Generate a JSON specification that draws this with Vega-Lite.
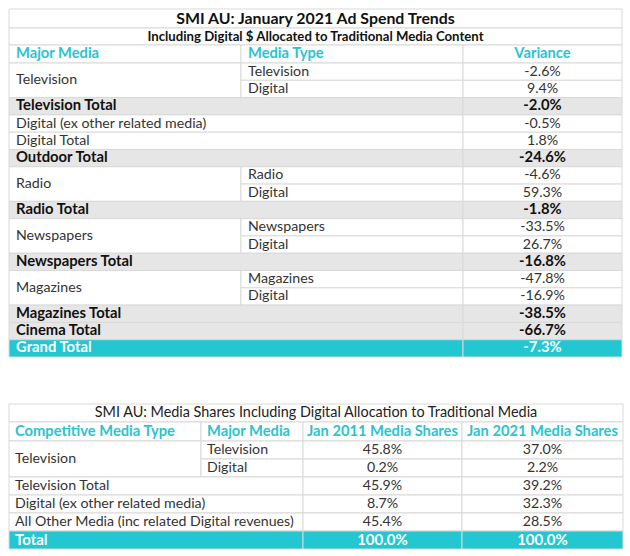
{
  "$schema": "https://vega.github.io/schema/vega-lite/v6.json",
  "padding": {"left": 8, "top": 8, "right": 8, "bottom": 8},
  "spacing": 45,
  "config": {"view": {"stroke": null}, "text": {"font": "Lato", "baseline": "middle"}},
  "datasets": {
    "t1": [
      {"r":0,"re":1,"c":0,"ce":3,"t":"SMI AU: January 2021 Ad Spend Trends","k":"title","a":"c"},
      {"r":1,"re":2,"c":0,"ce":3,"t":"Including Digital $ Allocated to Traditional Media Content","k":"subtitle","a":"c"},
      {"r":2,"re":3,"c":0,"ce":1,"t":"Major Media","k":"header","a":"l"},
      {"r":2,"re":3,"c":1,"ce":2,"t":"Media Type","k":"header","a":"l"},
      {"r":2,"re":3,"c":2,"ce":3,"t":"Variance","k":"header","a":"c"},
      {"r":3,"re":5,"c":0,"ce":1,"t":"Television","k":"body","a":"l"},
      {"r":3,"re":4,"c":1,"ce":2,"t":"Television","k":"body","a":"l"},
      {"r":3,"re":4,"c":2,"ce":3,"t":"-2.6%","k":"body","a":"c"},
      {"r":4,"re":5,"c":1,"ce":2,"t":"Digital","k":"body","a":"l"},
      {"r":4,"re":5,"c":2,"ce":3,"t":"9.4%","k":"body","a":"c"},
      {"r":5,"re":6,"c":0,"ce":2,"t":"Television Total","k":"total","a":"l"},
      {"r":5,"re":6,"c":2,"ce":3,"t":"-2.0%","k":"total","a":"c"},
      {"r":6,"re":7,"c":0,"ce":2,"t":"Digital (ex other related media)","k":"body","a":"l"},
      {"r":6,"re":7,"c":2,"ce":3,"t":"-0.5%","k":"body","a":"c"},
      {"r":7,"re":8,"c":0,"ce":2,"t":"Digital Total","k":"body","a":"l"},
      {"r":7,"re":8,"c":2,"ce":3,"t":"1.8%","k":"body","a":"c"},
      {"r":8,"re":9,"c":0,"ce":2,"t":"Outdoor Total","k":"total","a":"l"},
      {"r":8,"re":9,"c":2,"ce":3,"t":"-24.6%","k":"total","a":"c"},
      {"r":9,"re":11,"c":0,"ce":1,"t":"Radio","k":"body","a":"l"},
      {"r":9,"re":10,"c":1,"ce":2,"t":"Radio","k":"body","a":"l"},
      {"r":9,"re":10,"c":2,"ce":3,"t":"-4.6%","k":"body","a":"c"},
      {"r":10,"re":11,"c":1,"ce":2,"t":"Digital","k":"body","a":"l"},
      {"r":10,"re":11,"c":2,"ce":3,"t":"59.3%","k":"body","a":"c"},
      {"r":11,"re":12,"c":0,"ce":2,"t":"Radio Total","k":"total","a":"l"},
      {"r":11,"re":12,"c":2,"ce":3,"t":"-1.8%","k":"total","a":"c"},
      {"r":12,"re":14,"c":0,"ce":1,"t":"Newspapers","k":"body","a":"l"},
      {"r":12,"re":13,"c":1,"ce":2,"t":"Newspapers","k":"body","a":"l"},
      {"r":12,"re":13,"c":2,"ce":3,"t":"-33.5%","k":"body","a":"c"},
      {"r":13,"re":14,"c":1,"ce":2,"t":"Digital","k":"body","a":"l"},
      {"r":13,"re":14,"c":2,"ce":3,"t":"26.7%","k":"body","a":"c"},
      {"r":14,"re":15,"c":0,"ce":2,"t":"Newspapers Total","k":"total","a":"l"},
      {"r":14,"re":15,"c":2,"ce":3,"t":"-16.8%","k":"total","a":"c"},
      {"r":15,"re":17,"c":0,"ce":1,"t":"Magazines","k":"body","a":"l"},
      {"r":15,"re":16,"c":1,"ce":2,"t":"Magazines","k":"body","a":"l"},
      {"r":15,"re":16,"c":2,"ce":3,"t":"-47.8%","k":"body","a":"c"},
      {"r":16,"re":17,"c":1,"ce":2,"t":"Digital","k":"body","a":"l"},
      {"r":16,"re":17,"c":2,"ce":3,"t":"-16.9%","k":"body","a":"c"},
      {"r":17,"re":18,"c":0,"ce":2,"t":"Magazines Total","k":"total","a":"l"},
      {"r":17,"re":18,"c":2,"ce":3,"t":"-38.5%","k":"total","a":"c"},
      {"r":18,"re":19,"c":0,"ce":2,"t":"Cinema Total","k":"total","a":"l"},
      {"r":18,"re":19,"c":2,"ce":3,"t":"-66.7%","k":"total","a":"c"},
      {"r":19,"re":20,"c":0,"ce":2,"t":"Grand Total","k":"grand","a":"l"},
      {"r":19,"re":20,"c":2,"ce":3,"t":"-7.3%","k":"grand","a":"c"}
    ],
    "t2": [
      {"r":0,"re":1,"c":0,"ce":4,"t":"SMI AU: Media Shares Including Digital Allocation to Traditional Media","k":"title2","a":"c"},
      {"r":1,"re":2,"c":0,"ce":1,"t":"Competitive Media Type","k":"header","a":"l"},
      {"r":1,"re":2,"c":1,"ce":2,"t":"Major Media","k":"header","a":"l"},
      {"r":1,"re":2,"c":2,"ce":3,"t":"Jan 2011 Media Shares","k":"header","a":"c"},
      {"r":1,"re":2,"c":3,"ce":4,"t":"Jan 2021 Media Shares","k":"header","a":"c"},
      {"r":2,"re":4,"c":0,"ce":1,"t":"Television","k":"body","a":"l"},
      {"r":2,"re":3,"c":1,"ce":2,"t":"Television","k":"body","a":"l"},
      {"r":2,"re":3,"c":2,"ce":3,"t":"45.8%","k":"body","a":"c"},
      {"r":2,"re":3,"c":3,"ce":4,"t":"37.0%","k":"body","a":"c"},
      {"r":3,"re":4,"c":1,"ce":2,"t":"Digital","k":"body","a":"l"},
      {"r":3,"re":4,"c":2,"ce":3,"t":"0.2%","k":"body","a":"c"},
      {"r":3,"re":4,"c":3,"ce":4,"t":"2.2%","k":"body","a":"c"},
      {"r":4,"re":5,"c":0,"ce":2,"t":"Television Total","k":"body","a":"l"},
      {"r":4,"re":5,"c":2,"ce":3,"t":"45.9%","k":"body","a":"c"},
      {"r":4,"re":5,"c":3,"ce":4,"t":"39.2%","k":"body","a":"c"},
      {"r":5,"re":6,"c":0,"ce":2,"t":"Digital (ex other related media)","k":"body","a":"l"},
      {"r":5,"re":6,"c":2,"ce":3,"t":"8.7%","k":"body","a":"c"},
      {"r":5,"re":6,"c":3,"ce":4,"t":"32.3%","k":"body","a":"c"},
      {"r":6,"re":7,"c":0,"ce":2,"t":"All Other Media (inc related Digital revenues)","k":"body","a":"l"},
      {"r":6,"re":7,"c":2,"ce":3,"t":"45.4%","k":"body","a":"c"},
      {"r":6,"re":7,"c":3,"ce":4,"t":"28.5%","k":"body","a":"c"},
      {"r":7,"re":8,"c":0,"ce":2,"t":"Total","k":"grand","a":"l"},
      {"r":7,"re":8,"c":2,"ce":3,"t":"100.0%","k":"grand","a":"c"},
      {"r":7,"re":8,"c":3,"ce":4,"t":"100.0%","k":"grand","a":"c"}
    ]
  },
  "vconcat": [
    {
      "width": 613, "height": 348,
      "data": {"name": "t1"},
      "transform": [
        {"calculate": "(datum.r + datum.re) / 2", "as": "ym"},
        {"calculate": "(datum.c + datum.ce) / 2", "as": "xm"}
      ],
      "resolve": {"scale": {"x": "independent"}},
      "layer": [
        {
          "encoding": {
            "y": {"field": "ym", "type": "quantitative", "axis": null, "scale": {"domain": [0,1,2,3,20], "range": [0,19,36,54,348], "zero": false, "nice": false}},
            "text": {"field": "t"},
            "color": {"field": "k", "type": "nominal", "legend": null, "scale": {"domain": ["title","subtitle","title2","header","body","total","grand"], "range": ["#111111","#111111","#222222","#2cc3cf","#333333","#111111","#ffffff"]}}
          },
          "layer": [
            {
              "mark": {"type": "rect", "stroke": "#d9d9d9", "strokeWidth": 1},
              "encoding": {
                "x": {"field": "c", "type": "quantitative", "axis": null, "scale": {"domain": [0,1,2,3], "range": [0,232,454,613], "zero": false, "nice": false}},
                "x2": {"field": "ce"},
                "y": {"field": "r", "type": "quantitative", "axis": null, "scale": {"domain": [0,1,2,3,20], "range": [0,19,36,54,348], "zero": false, "nice": false}},
                "y2": {"field": "re"},
                "color": null,
                "text": null,
                "fill": {"field": "k", "type": "nominal", "legend": null, "scale": {"domain": ["title","subtitle","title2","header","body","total","grand"], "range": ["#ffffff","#ffffff","#ffffff","#ffffff","#ffffff","#e6e6e6","#22c7d1"]}}
              }
            },
            {
              "transform": [{"filter": "datum.a === 'l' && datum.k === 'body'"}],
              "mark": {"type": "text", "align": "left", "dx": 7, "fontSize": 14.2, "fontWeight": "normal"},
              "encoding": {"x": {"field": "c", "type": "quantitative"}}
            },
            {
              "transform": [{"filter": "datum.a === 'c' && datum.k === 'body'"}],
              "mark": {"type": "text", "align": "center", "fontSize": 14.2, "fontWeight": "normal"},
              "encoding": {"x": {"field": "xm", "type": "quantitative"}}
            },
            {
              "transform": [{"filter": "datum.a === 'l' && datum.k === 'header'"}],
              "mark": {"type": "text", "align": "left", "dx": 7, "fontSize": 14.7, "fontWeight": "bold"},
              "encoding": {"x": {"field": "c", "type": "quantitative"}}
            },
            {
              "transform": [{"filter": "datum.a === 'c' && datum.k === 'header'"}],
              "mark": {"type": "text", "align": "center", "fontSize": 14.7, "fontWeight": "bold"},
              "encoding": {"x": {"field": "xm", "type": "quantitative"}}
            },
            {
              "transform": [{"filter": "datum.a === 'l' && (datum.k === 'total' || datum.k === 'grand')"}],
              "mark": {"type": "text", "align": "left", "dx": 7, "fontSize": 14.8, "fontWeight": "bold"},
              "encoding": {"x": {"field": "c", "type": "quantitative"}}
            },
            {
              "transform": [{"filter": "datum.a === 'c' && (datum.k === 'total' || datum.k === 'grand')"}],
              "mark": {"type": "text", "align": "center", "fontSize": 14.8, "fontWeight": "bold"},
              "encoding": {"x": {"field": "xm", "type": "quantitative"}}
            }
          ]
        },
        {
          "encoding": {
            "x": {"field": "xm", "type": "quantitative", "axis": null, "scale": {"domain": [0,3], "range": [0,613], "zero": false, "nice": false}},
            "y": {"field": "ym", "type": "quantitative"},
            "text": {"field": "t"},
            "color": {"field": "k", "type": "nominal", "legend": null, "scale": {"domain": ["title","subtitle","title2","header","body","total","grand"], "range": ["#111111","#111111","#222222","#2cc3cf","#333333","#111111","#ffffff"]}}
          },
          "layer": [
            {
              "transform": [{"filter": "datum.k === 'title'"}],
              "mark": {"type": "text", "align": "center", "fontSize": 15.9, "fontWeight": "bold"}
            },
            {
              "transform": [{"filter": "datum.k === 'subtitle'"}],
              "mark": {"type": "text", "align": "center", "fontSize": 13.2, "fontWeight": "bold"}
            }
          ]
        }
      ]
    },
    {
      "width": 614, "height": 145,
      "data": {"name": "t2"},
      "transform": [
        {"calculate": "(datum.r + datum.re) / 2", "as": "ym"},
        {"calculate": "(datum.c + datum.ce) / 2", "as": "xm"}
      ],
      "resolve": {"scale": {"x": "independent"}},
      "layer": [
        {
          "encoding": {
            "y": {"field": "ym", "type": "quantitative", "axis": null, "scale": {"domain": [0,1,2,8], "range": [0,18,37,145], "zero": false, "nice": false}},
            "text": {"field": "t"},
            "color": {"field": "k", "type": "nominal", "legend": null, "scale": {"domain": ["title","subtitle","title2","header","body","total","grand"], "range": ["#111111","#111111","#222222","#2cc3cf","#333333","#111111","#ffffff"]}}
          },
          "layer": [
            {
              "mark": {"type": "rect", "stroke": "#d9d9d9", "strokeWidth": 1},
              "encoding": {
                "x": {"field": "c", "type": "quantitative", "axis": null, "scale": {"domain": [0,1,2,3,4], "range": [0,192,294,453,614], "zero": false, "nice": false}},
                "x2": {"field": "ce"},
                "y": {"field": "r", "type": "quantitative", "axis": null, "scale": {"domain": [0,1,2,8], "range": [0,18,37,145], "zero": false, "nice": false}},
                "y2": {"field": "re"},
                "color": null,
                "text": null,
                "fill": {"field": "k", "type": "nominal", "legend": null, "scale": {"domain": ["title","subtitle","title2","header","body","total","grand"], "range": ["#ffffff","#ffffff","#ffffff","#ffffff","#ffffff","#e6e6e6","#22c7d1"]}}
              }
            },
            {
              "transform": [{"filter": "datum.a === 'l' && datum.k === 'body'"}],
              "mark": {"type": "text", "align": "left", "dx": 6, "fontSize": 14.2, "fontWeight": "normal"},
              "encoding": {"x": {"field": "c", "type": "quantitative"}}
            },
            {
              "transform": [{"filter": "datum.a === 'c' && datum.k === 'body'"}],
              "mark": {"type": "text", "align": "center", "fontSize": 14.2, "fontWeight": "normal"},
              "encoding": {"x": {"field": "xm", "type": "quantitative"}}
            },
            {
              "transform": [{"filter": "datum.a === 'l' && datum.k === 'header'"}],
              "mark": {"type": "text", "align": "left", "dx": 6, "fontSize": 14.7, "fontWeight": "bold"},
              "encoding": {"x": {"field": "c", "type": "quantitative"}}
            },
            {
              "transform": [{"filter": "datum.a === 'c' && datum.k === 'header'"}],
              "mark": {"type": "text", "align": "center", "fontSize": 14.7, "fontWeight": "bold"},
              "encoding": {"x": {"field": "xm", "type": "quantitative"}}
            },
            {
              "transform": [{"filter": "datum.a === 'l' && datum.k === 'grand'"}],
              "mark": {"type": "text", "align": "left", "dx": 6, "fontSize": 15, "fontWeight": "bold"},
              "encoding": {"x": {"field": "c", "type": "quantitative"}}
            },
            {
              "transform": [{"filter": "datum.a === 'c' && datum.k === 'grand'"}],
              "mark": {"type": "text", "align": "center", "fontSize": 15, "fontWeight": "bold"},
              "encoding": {"x": {"field": "xm", "type": "quantitative"}}
            }
          ]
        },
        {
          "transform": [{"filter": "datum.k === 'title2'"}],
          "mark": {"type": "text", "align": "center", "fontSize": 14.4, "fontWeight": "normal"},
          "encoding": {
            "x": {"field": "xm", "type": "quantitative", "axis": null, "scale": {"domain": [0,4], "range": [0,614], "zero": false, "nice": false}},
            "y": {"field": "ym", "type": "quantitative"},
            "text": {"field": "t"},
            "color": {"field": "k", "type": "nominal", "legend": null, "scale": {"domain": ["title","subtitle","title2","header","body","total","grand"], "range": ["#111111","#111111","#222222","#2cc3cf","#333333","#111111","#ffffff"]}}
          }
        }
      ]
    }
  ]
}
